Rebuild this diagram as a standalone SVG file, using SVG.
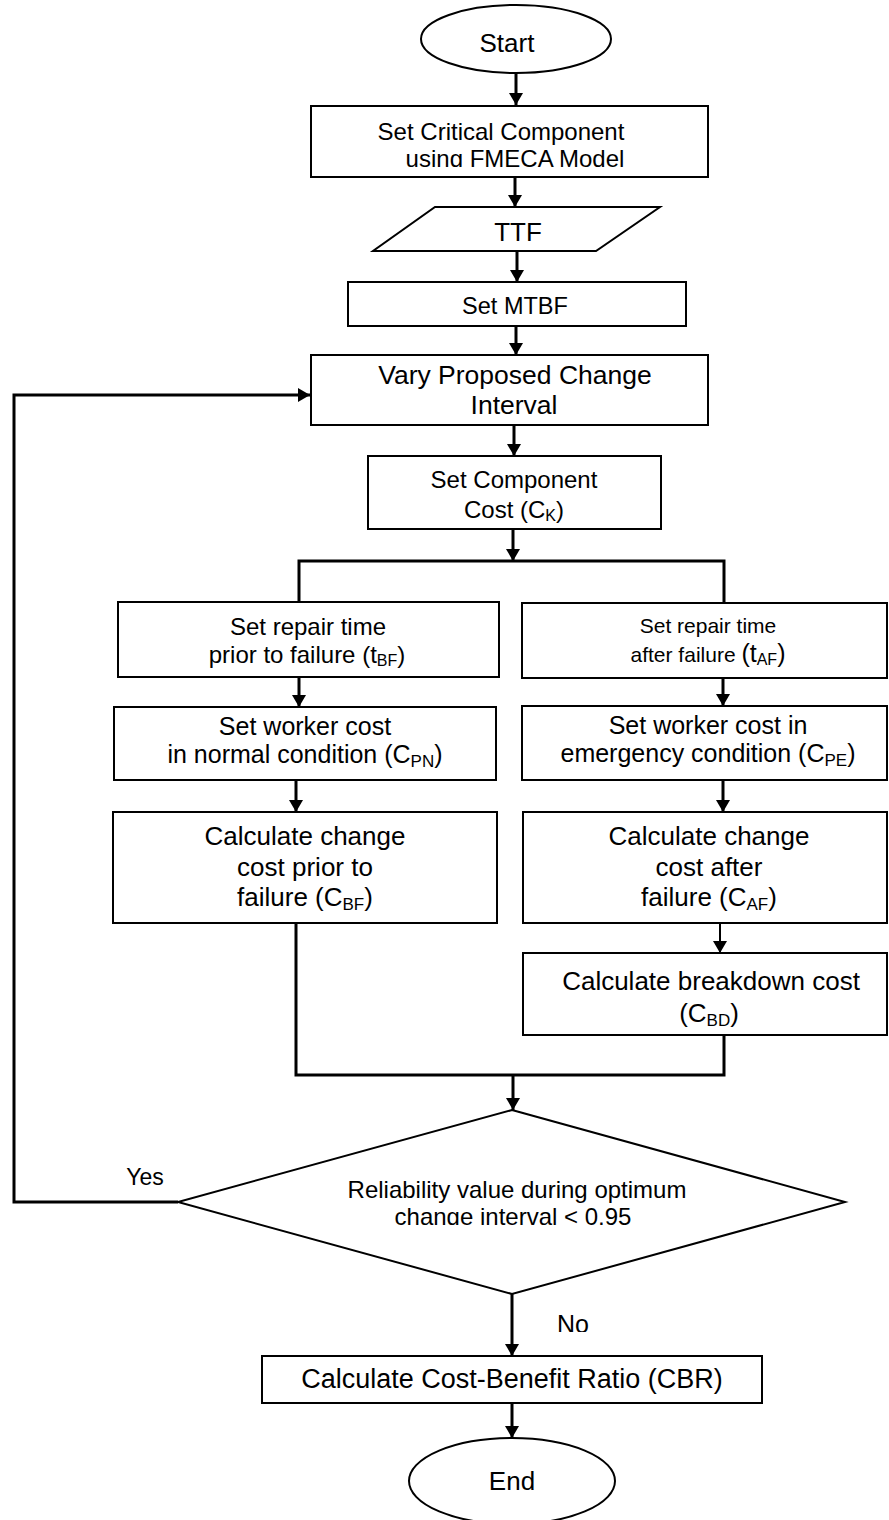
<svg xmlns="http://www.w3.org/2000/svg" width="889" height="1520" viewBox="0 0 889 1520">
<style>
.box{fill:#fff;stroke:#000;stroke-width:2}
.ln{fill:none;stroke:#000;stroke-width:3}
.ln2{fill:none;stroke:#000;stroke-width:2}
text{font-family:"Liberation Sans",Arial,sans-serif;fill:#000;text-anchor:middle}
</style>
<defs>
<marker id="ah" viewBox="0 0 12 14" refX="12" refY="7" markerWidth="12" markerHeight="14" markerUnits="userSpaceOnUse" orient="auto">
<path d="M0,0 L12,7 L0,14 Z" fill="#000"/>
</marker>
<clipPath id="c1"><rect x="300" y="100" width="420" height="67"/></clipPath>
<clipPath id="c2"><rect x="300" y="1170" width="420" height="55"/></clipPath>
<clipPath id="c3"><rect x="540" y="1300" width="80" height="32"/></clipPath>
</defs>
<rect width="889" height="1520" fill="#fff"/>
<g id="connectors">
<path class="ln" d="M516,73 V105" marker-end="url(#ah)"/>
<path class="ln" d="M515,177 V207" marker-end="url(#ah)"/>
<path class="ln" d="M517,251 V282" marker-end="url(#ah)"/>
<path class="ln" d="M516,326 V355" marker-end="url(#ah)"/>
<path class="ln" d="M514,425 V456" marker-end="url(#ah)"/>
<path class="ln" d="M513,529 V561" marker-end="url(#ah)"/>
<path class="ln" d="M299,602 V561 H724 V602"/>
<path class="ln" d="M299,677 V707" marker-end="url(#ah)"/>
<path class="ln" d="M296,780 V812" marker-end="url(#ah)"/>
<path class="ln" d="M723,678 V706" marker-end="url(#ah)"/>
<path class="ln" d="M723,780 V812" marker-end="url(#ah)"/>
<path class="ln2" d="M720,923 V953" marker-end="url(#ah)"/>
<path class="ln" d="M296,923 V1075 H724 V1035"/>
<path class="ln" d="M513,1075 V1110" marker-end="url(#ah)"/>
<path class="ln" d="M178,1202 H14 V395 H310" marker-end="url(#ah)"/>
<path class="ln" d="M512,1294 V1356" marker-end="url(#ah)"/>
<path class="ln" d="M512,1403 V1438" marker-end="url(#ah)"/>
<text x="145" y="1185" font-size="23">Yes</text>
<text x="573" y="1333" font-size="25" clip-path="url(#c3)">No</text>
</g>
<g id="start">
<ellipse class="box" cx="516" cy="39" rx="95" ry="34"/>
<text x="507" y="52" font-size="26">Start</text>
</g>
<g id="critical">
<rect class="box" x="311" y="106" width="397" height="71"/>
<text x="501" y="140" font-size="24">Set Critical Component</text>
<text x="515" y="167" font-size="24" clip-path="url(#c1)">using FMECA Model</text>
</g>
<g id="ttf">
<polygon class="box" points="435,207 660,207 596,251 373,251"/>
<text x="518" y="241" font-size="26">TTF</text>
</g>
<g id="mtbf">
<rect class="box" x="348" y="282" width="338" height="44"/>
<text x="515" y="314" font-size="23.5">Set MTBF</text>
</g>
<g id="vary">
<rect class="box" x="311" y="355" width="397" height="70"/>
<text x="515" y="384" font-size="26.5">Vary Proposed Change</text>
<text x="514" y="414" font-size="26.5">Interval</text>
</g>
<g id="component">
<rect class="box" x="368" y="456" width="293" height="73"/>
<text x="514" y="488" font-size="24">Set Component</text>
<text x="514" y="518" font-size="24">Cost (C<tspan font-size="16" dy="3">K</tspan><tspan dy="-3">)</tspan></text>
</g>
<g id="repair-before">
<rect class="box" x="118" y="602" width="381" height="75"/>
<text x="308" y="635" font-size="24">Set repair time</text>
<text x="307" y="663" font-size="24">prior to failure  (t<tspan font-size="16" dy="3">BF</tspan><tspan dy="-3">)</tspan></text>
</g>
<g id="repair-after">
<rect class="box" x="522" y="603" width="365" height="75"/>
<text x="708" y="633" font-size="21">Set repair time</text>
<text x="708" y="662" font-size="21">after failure   <tspan font-size="25">(t</tspan><tspan font-size="16" dy="3">AF</tspan><tspan font-size="25" dy="-3">)</tspan></text>
</g>
<g id="worker-normal">
<rect class="box" x="114" y="707" width="382" height="73"/>
<text x="305" y="735" font-size="25">Set worker cost</text>
<text x="305" y="763" font-size="25">in normal condition (C<tspan font-size="17" dy="4">PN</tspan><tspan dy="-4">)</tspan></text>
</g>
<g id="worker-emergency">
<rect class="box" x="522" y="706" width="365" height="74"/>
<text x="708" y="734" font-size="25">Set worker cost in</text>
<text x="708" y="762" font-size="25">emergency condition (C<tspan font-size="17" dy="4">PE</tspan><tspan dy="-4">)</tspan></text>
</g>
<g id="change-before">
<rect class="box" x="113" y="812" width="384" height="111"/>
<text x="305" y="845" font-size="26">Calculate change</text>
<text x="305" y="876" font-size="26">cost prior to</text>
<text x="305" y="906" font-size="26">failure (C<tspan font-size="17" dy="4">BF</tspan><tspan dy="-4">)</tspan></text>
</g>
<g id="change-after">
<rect class="box" x="523" y="812" width="364" height="111"/>
<text x="709" y="845" font-size="26">Calculate change</text>
<text x="709" y="876" font-size="26">cost after</text>
<text x="709" y="906" font-size="26">failure (C<tspan font-size="17" dy="4">AF</tspan><tspan dy="-4">)</tspan></text>
</g>
<g id="breakdown">
<rect class="box" x="523" y="953" width="364" height="82"/>
<text x="711" y="990" font-size="26">Calculate breakdown cost</text>
<text x="709" y="1022" font-size="26">(C<tspan font-size="17" dy="4">BD</tspan><tspan dy="-4">)</tspan></text>
</g>
<g id="decision">
<polygon class="box" points="512,1110 845,1202 512,1294 178,1202"/>
<text x="517" y="1198" font-size="24">Reliability value during optimum</text>
<text x="513" y="1225" font-size="24" clip-path="url(#c2)">change interval &lt; 0,95</text>
</g>
<g id="cbr">
<rect class="box" x="262" y="1356" width="500" height="47"/>
<text x="512" y="1388" font-size="27">Calculate Cost-Benefit Ratio (CBR)</text>
</g>
<g id="end">
<ellipse class="box" cx="512" cy="1481" rx="103" ry="43"/>
<text x="512" y="1490" font-size="26">End</text>
</g>
</svg>
